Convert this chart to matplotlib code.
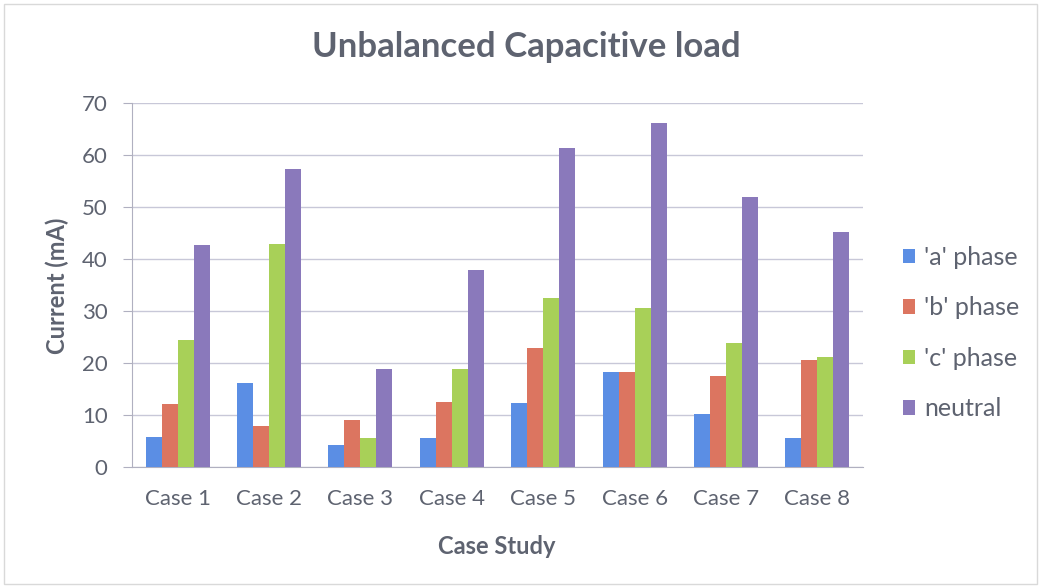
import numpy as np
import matplotlib
matplotlib.use("Agg")
import matplotlib.pyplot as plt
from matplotlib.patches import Rectangle

plt.rcParams['font.family'] = ['Lato', 'DejaVu Sans']

# Data
cases = ['Case 1', 'Case 2', 'Case 3', 'Case 4', 'Case 5', 'Case 6', 'Case 7', 'Case 8']
a_phase = [5.8, 16.2, 4.2, 5.6, 12.3, 18.2, 10.1, 5.6]
b_phase = [12.2, 7.9, 9.1, 12.5, 22.9, 18.2, 17.5, 20.5]
c_phase = [24.5, 42.8, 5.6, 18.8, 32.5, 30.5, 23.8, 21.2]
neutral = [42.6, 57.4, 18.8, 37.8, 61.4, 66.2, 51.9, 45.1]

series = [a_phase, b_phase, c_phase, neutral]
labels = ["'a' phase", "'b' phase", "'c' phase", "neutral"]
colors = ['#5b8ee4', '#dc7560', '#a8d058', '#8a79bb']
text_col = '#5e6370'

fig = plt.figure(figsize=(10.43, 5.88), dpi=100)
fig.patches.append(Rectangle((0.004, 0.006), 0.99, 0.988, transform=fig.transFigure,
                             fill=False, edgecolor='#d9d9d9', linewidth=1))
ax = fig.add_axes([132 / 1043, 1 - 467 / 588, (863 - 132) / 1043, (467 - 103) / 588])

x = np.arange(len(cases))
w = 0.175
for i, (vals, lab, col) in enumerate(zip(series, labels, colors)):
    ax.bar(x + (i - 1.5) * w, vals, width=w, color=col, label=lab, zorder=3)

ax.set_xlim(-0.5, len(cases) - 0.5)
ax.set_ylim(0, 70)
ax.set_yticks(range(0, 71, 10))
ax.set_xticks(x)
ax.set_xticklabels(cases)
ax.yaxis.grid(True, color='#c8c8d8', linewidth=1, zorder=0)
for s in ['top', 'right']:
    ax.spines[s].set_visible(False)
for s in ['left', 'bottom']:
    ax.spines[s].set_color('#b0b0c0')
ax.tick_params(axis='y', length=6.5, color='#b0b0c0', labelsize=16, labelcolor=text_col, pad=11)
ax.tick_params(axis='x', length=0, labelsize=16, labelcolor=text_col, pad=16)

fig.text(497 / 1043, 1 - 546 / 588, 'Case Study', ha='center', va='center',
         fontsize=17, fontweight='bold', color=text_col)
fig.text(57 / 1043, 1 - 286 / 588, 'Current (mA)', ha='center', va='center', rotation=90,
         fontsize=17, fontweight='bold', color=text_col)
fig.text(526 / 1043, 1 - 47 / 588, 'Unbalanced Capacitive load', ha='center', va='center',
         fontsize=25, fontweight='bold', color=text_col)

ax.legend(loc='center left', bbox_to_anchor=(880 / 1043, 1 - 333 / 588),
          bbox_transform=fig.transFigure, frameon=False, fontsize=18,
          labelcolor=text_col, handlelength=0.5, handleheight=0.5,
          handletextpad=0.35, labelspacing=1.1)

plt.savefig('out.png', dpi=100)
